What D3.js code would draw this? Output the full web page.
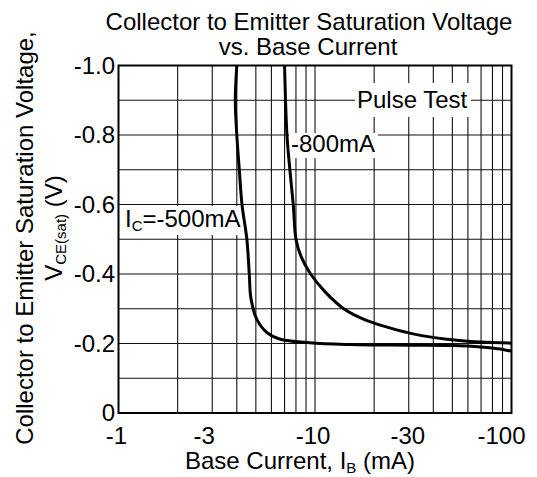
<!DOCTYPE html>
<html>
<head>
<meta charset="utf-8">
<script src="https://cdn.jsdelivr.net/npm/d3@7.9.0/dist/d3.min.js"></script>
<style>
  body { margin: 0; background: #fff; }
  svg { display: block; font-family: "Liberation Sans", Arial, sans-serif; }
</style>
</head>
<body>
<svg id="chart" width="537" height="477"></svg>
<script>
// values: [base current |IB| mA, VCE(sat) V]
const ic500 = [
  [4.0, -1.0], [3.93, -0.9], [4.0, -0.8], [4.12, -0.7], [4.25, -0.6],
  [4.5, -0.5], [4.63, -0.4], [4.72, -0.33], [5.05, -0.27], [5.68, -0.232],
  [6.6, -0.213], [9.4, -0.202], [15, -0.197], [30, -0.195], [50, -0.194],
  [70, -0.19], [85, -0.185], [100, -0.178]
];
const ic800 = [
  [7.0, -1.0], [7.2, -0.8], [7.45, -0.7], [7.75, -0.6], [8.0, -0.5],
  [8.5, -0.45], [9.5, -0.4], [11.2, -0.35], [14, -0.3], [18, -0.268],
  [24, -0.245], [32, -0.227], [47, -0.212], [69, -0.204], [100, -0.201]
];
const xTicks = [1, 3, 10, 30, 100];
const xTickLabels = ['-1', '-3', '-10', '-30', '-100'];
const yTicks = [0, -0.2, -0.4, -0.6, -0.8, -1.0];
const yTickLabels = ['0', '-0.2', '-0.4', '-0.6', '-0.8', '-1.0'];
const xGrid = [2, 3, 4, 5, 6, 7, 8, 9, 10, 20, 30, 40, 50, 60, 70, 80, 90];
const yGrid = [-0.1, -0.2, -0.3, -0.4, -0.5, -0.6, -0.7, -0.8, -0.9];

const svg = d3.select('#chart');
const plot = { left: 118.5, right: 511.5, top: 65.5, bottom: 413 };

const x = d3.scaleLog().domain([1, 100]).range([plot.left, plot.right]);
const y = d3.scaleLinear().domain([0, -1]).range([plot.bottom, plot.top]);

// grid
svg.append('g')
  .selectAll('line')
  .data(xGrid)
  .join('line')
  .attr('x1', d => x(d)).attr('x2', d => x(d))
  .attr('y1', plot.top).attr('y2', plot.bottom)
  .attr('stroke', '#111').attr('stroke-width', 1.1);

svg.append('g')
  .selectAll('line')
  .data(yGrid)
  .join('line')
  .attr('x1', plot.left).attr('x2', plot.right)
  .attr('y1', d => y(d)).attr('y2', d => y(d))
  .attr('stroke', '#111').attr('stroke-width', 1.1);

// label boxes (white, hide the grid under the text)
const boxes = [
  { x0: 120, x1: 241, y0: 206, y1: 235 },
  { x0: 289, x1: 378, y0: 133, y1: 158 },
  { x0: 355, x1: 471, y0: 83, y1: 117 }
];
svg.append('g')
  .selectAll('rect')
  .data(boxes)
  .join('rect')
  .attr('x', d => d.x0).attr('y', d => d.y0)
  .attr('width', d => d.x1 - d.x0).attr('height', d => d.y1 - d.y0)
  .attr('fill', '#fff');

// curves
const line = d3.line()
  .x(d => x(d[0]))
  .y(d => y(d[1]))
  .curve(d3.curveCatmullRom.alpha(0.5));

svg.append('g')
  .selectAll('path')
  .data([ic500, ic800])
  .join('path')
  .attr('d', line)
  .attr('fill', 'none')
  .attr('stroke', '#000')
  .attr('stroke-width', 3);

// frame
svg.append('rect')
  .attr('x', plot.left).attr('y', plot.top)
  .attr('width', plot.right - plot.left).attr('height', plot.bottom - plot.top)
  .attr('fill', 'none').attr('stroke', '#000').attr('stroke-width', 2);

// tick labels
const fs = 24;
const xTickShift = [-2, -8, -2, -1, -10];
svg.append('g')
  .selectAll('text')
  .data(xTicks)
  .join('text')
  .attr('x', (d, i) => x(d) + xTickShift[i])
  .attr('y', 444)
  .attr('text-anchor', 'middle')
  .attr('font-size', fs)
  .text((d, i) => xTickLabels[i]);

svg.append('g')
  .selectAll('text')
  .data(yTicks)
  .join('text')
  .attr('x', 115)
  .attr('y', d => y(d))
  .attr('dy', '0.34em')
  .attr('text-anchor', 'end')
  .attr('font-size', fs)
  .text((d, i) => yTickLabels[i]);

// title
const title = svg.append('text')
  .attr('text-anchor', 'middle')
  .attr('font-size', fs);
title.append('tspan').attr('x', 309).attr('y', 30).text('Collector to Emitter Saturation Voltage');
title.append('tspan').attr('x', 308).attr('y', 55).text('vs. Base Current');

// x axis title
const xt = svg.append('text')
  .attr('x', 300).attr('y', 469)
  .attr('text-anchor', 'middle')
  .attr('font-size', fs);
xt.append('tspan').text('Base Current, I');
xt.append('tspan').attr('font-size', 15).attr('dy', 4).text('B');
xt.append('tspan').attr('dy', -4).text(' (mA)');

// y axis title
svg.append('text')
  .attr('transform', 'translate(33,238) rotate(-90)')
  .attr('text-anchor', 'middle')
  .attr('font-size', fs)
  .text('Collector to Emitter Saturation Voltage,');

const yt2 = svg.append('text')
  .attr('transform', 'translate(62,228) rotate(-90)')
  .attr('text-anchor', 'middle')
  .attr('font-size', fs);
yt2.append('tspan').text('V');
yt2.append('tspan').attr('font-size', 15).attr('dy', 4).text('CE(sat)');
yt2.append('tspan').attr('dy', -4).text(' (V)');

// annotations
const a1 = svg.append('text')
  .attr('x', 125).attr('y', 227)
  .attr('font-size', fs);
a1.append('tspan').text('I');
a1.append('tspan').attr('font-size', 15).attr('dy', 4).text('C');
a1.append('tspan').attr('dy', -4).text('=-500mA');

svg.append('text')
  .attr('x', 291).attr('y', 152)
  .attr('font-size', fs)
  .text('-800mA');

svg.append('text')
  .attr('x', 357).attr('y', 108)
  .attr('font-size', fs)
  .text('Pulse Test');
</script>
</body>
</html>
